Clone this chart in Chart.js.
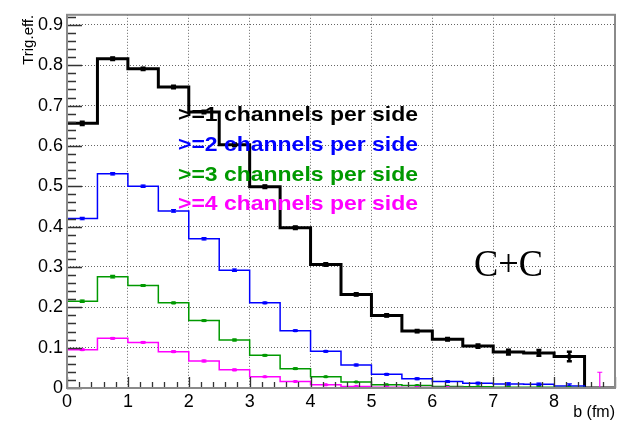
<!DOCTYPE html>
<html>
<head>
<meta charset="utf-8">
<script src="https://cdn.jsdelivr.net/npm/chart.js@4.4.1/dist/chart.umd.min.js"></script>
<style>
  html, body { margin: 0; padding: 0; background: #ffffff; }
  #wrap { width: 625px; height: 422px; position: relative; }
  #c { display: block; width: 625px; height: 422px; }
</style>
</head>
<body>
<div id="wrap"><canvas id="c" width="625" height="422"></canvas></div>
<script>
// Impact parameter bins (fm): lower edges, plus the upper edge of the last bin
const binLow = [0, 0.5, 1, 1.5, 2, 2.5, 3, 3.5, 4, 4.5, 5, 5.5, 6, 6.5, 7, 7.5, 8, 8.5];
const binUpper = 9;
const binHalfWidth = 0.25;

// Trigger efficiency per bin for each multiplicity condition
const effGe1 = [0.656, 0.816, 0.791, 0.746, 0.684, 0.603, 0.499, 0.397, 0.306, 0.232, 0.180, 0.141, 0.121, 0.104, 0.089, 0.087, 0.078, 0];
const errGe1 = [0.004, 0.003, 0.003, 0.003, 0.003, 0.003, 0.003, 0.003, 0.003, 0.003, 0.003, 0.003, 0.003, 0.004, 0.006, 0.007, 0.012, 0];
const effGe2 = [0.420, 0.531, 0.500, 0.439, 0.370, 0.292, 0.211, 0.142, 0.091, 0.057, 0.034, 0.023, 0.016, 0.012, 0.010, 0.009, 0.005, 0];
const errGe2 = [0.003, 0.003, 0.003, 0.003, 0.003, 0.003, 0.002, 0.002, 0.002, 0.002, 0.002, 0.002, 0.002, 0.002, 0.003, 0.003, 0.005, 0];
const effGe3 = [0.215, 0.276, 0.254, 0.211, 0.167, 0.119, 0.081, 0.048, 0.028, 0.015, 0.008, 0.006, 0.004, 0.003, 0.002, 0.002, 0.001, 0];
const errGe3 = [0.003, 0.003, 0.002, 0.002, 0.002, 0.002, 0.002, 0.002, 0.001, 0.001, 0.001, 0.001, 0.001, 0.001, 0.001, 0.001, 0.001, 0];
const effGe4 = [0.095, 0.123, 0.113, 0.090, 0.067, 0.045, 0.028, 0.016, 0.008, 0.004, 0.002, 0.001, 0.001, 0, 0, 0, 0, 0];
const errGe4 = [0.002, 0.002, 0.002, 0.002, 0.002, 0.002, 0.001, 0.001, 0.001, 0.001, 0.001, 0.001, 0.001, 0, 0, 0, 0, 0.039];

// Axis tick labels
const xTickValues = [0, 1, 2, 3, 4, 5, 6, 7, 8];
const yTickValues = [0, 0.1, 0.2, 0.3, 0.4, 0.5, 0.6, 0.7, 0.8, 0.9];

const seriesNames = [">=1 channels per side", ">=2 channels per side", ">=3 channels per side", ">=4 channels per side"];
const seriesColors = ["#000000", "#0000ff", "#009900", "#ff00ff"];
const systemLabel = "C+C";

// Histogram outline: each point carries its bin's value; the line rises/falls at the bin's lower edge
function stepPoints(vals) {
  const pts = binLow.map((x, i) => ({ x: x, y: vals[i] }));
  pts.push({ x: binUpper, y: vals[vals.length - 1] });
  return pts;
}

function makeSet(i, vals, errs, width, order) {
  return {
    label: seriesNames[i],
    data: stepPoints(vals),
    errors: errs,
    values: vals,
    borderColor: seriesColors[i],
    borderWidth: width,
    stepped: 'before',
    pointRadius: 0,
    fill: false,
    order: order
  };
}

const SANS = "'Liberation Sans', Arial, Helvetica, sans-serif";
const NARROW = "'Liberation Sans Narrow', 'Arial Narrow', 'Liberation Sans', sans-serif";

// Error bars and bin-centre markers
const errorBarPlugin = {
  id: 'errorBars',
  afterDatasetsDraw(chart) {
    const { ctx, chartArea, scales: { x, y } } = chart;
    ctx.save();
    ctx.beginPath();
    ctx.rect(chartArea.left, chartArea.top, chartArea.right - chartArea.left, chartArea.bottom - chartArea.top);
    ctx.clip();
    const sets = chart.data.datasets.slice().sort((a, b) => b.order - a.order);
    sets.forEach((d) => {
      ctx.strokeStyle = d.borderColor;
      ctx.fillStyle = d.borderColor;
      const thick = d.borderWidth >= 2.5;
      ctx.lineWidth = thick ? 2.5 : 1.2;
      d.values.forEach((v, k) => {
        const e = d.errors[k];
        if (v === 0 && e === 0) return;
        const px = x.getPixelForValue(binLow[k] + binHalfWidth);
        const yHi = y.getPixelForValue(v + e);
        const yLo = y.getPixelForValue(v - e);
        const py = y.getPixelForValue(v);
        ctx.beginPath();
        ctx.moveTo(px, yHi); ctx.lineTo(px, yLo);
        ctx.moveTo(px - 2.5, yHi); ctx.lineTo(px + 2.5, yHi);
        ctx.moveTo(px - 2.5, yLo); ctx.lineTo(px + 2.5, yLo);
        ctx.stroke();
        const m = thick ? 4 : 3;
        if (v > 0) ctx.fillRect(px - m / 2, py - m / 2, m, m);
      });
    });
    ctx.restore();
  }
};

// Frame, inward tick marks, legend text and the collision-system label
const framePlugin = {
  id: 'frame',
  afterDraw(chart) {
    const { ctx, chartArea: a, scales: { x, y } } = chart;
    ctx.save();
    // minor and major ticks pointing into the plot
    ctx.strokeStyle = '#333333';
    ctx.lineWidth = 1.3;
    ctx.beginPath();
    for (let k = 0; k <= 45; k++) {
      const v = k * 0.2;
      const px = Math.round(x.getPixelForValue(v)) + 0.5;
      const len = (k % 5 === 0) ? 11 : 6;
      ctx.moveTo(px, a.bottom); ctx.lineTo(px, a.bottom - len);
    }
    for (let k = 0; k <= 46; k++) {
      const v = k * 0.02;
      const py = Math.round(y.getPixelForValue(v)) + 0.5;
      const len = (k % 5 === 0) ? 15 : 9;
      ctx.moveTo(a.left, py); ctx.lineTo(a.left + len, py);
    }
    ctx.stroke();
    // frame
    ctx.strokeStyle = '#8a8a8a';
    ctx.lineWidth = 2;
    ctx.strokeRect(a.left, a.top, a.right - a.left, a.bottom - a.top);

    // legend entries in their own colours, bold
    ctx.textBaseline = 'alphabetic';
    ctx.textAlign = 'left';
    const baselines = [121, 150.5, 180.5, 210];
    seriesNames.forEach((name, i) => {
      ctx.font = "bold 21px " + SANS;
      ctx.fillStyle = seriesColors[i];
      const w = ctx.measureText(name).width;
      ctx.save();
      ctx.translate(178, baselines[i]);
      ctx.scale(240 / w, 1);
      ctx.fillText(name, 0, 0);
      ctx.restore();
    });

    // collision system
    ctx.font = "38px 'Liberation Serif', 'Times New Roman', serif";
    ctx.fillStyle = '#000000';
    const cw = ctx.measureText(systemLabel).width;
    ctx.save();
    ctx.translate(474, 276);
    ctx.scale(69 / cw, 1);
    ctx.fillText(systemLabel, 0, 0);
    ctx.restore();
    ctx.restore();
  }
};

const chart = new Chart(document.getElementById('c'), {
  type: 'line',
  data: {
    datasets: [
      makeSet(0, effGe1, errGe1, 3, 4),
      makeSet(1, effGe2, errGe2, 1.5, 3),
      makeSet(2, effGe3, errGe3, 1.5, 2),
      makeSet(3, effGe4, errGe4, 1.5, 1)
    ]
  },
  options: {
    responsive: false,
    maintainAspectRatio: false,
    animation: false,
    devicePixelRatio: 1,
    layout: { padding: { top: 5, right: 10, left: 0, bottom: 0 } },
    plugins: { legend: { display: false }, tooltip: { enabled: false } },
    scales: {
      x: {
        type: 'linear',
        min: 0,
        max: binUpper,
        afterBuildTicks(s) { s.ticks = xTickValues.map(v => ({ value: v })); },
        afterFit(s) { s.height = 34; },
        ticks: {
          padding: 3,
          color: '#000000',
          font: { family: NARROW, size: 18 },
          callback: (v) => String(v)
        },
        grid: {
          drawTicks: false,
          color: (c) => (c.tick && c.tick.value > 0 ? '#666666' : 'rgba(0,0,0,0)'),
          lineWidth: 1
        },
        border: { display: false, dash: [1, 2] },
        title: {
          display: true,
          text: 'b (fm)',
          align: 'end',
          color: '#000000',
          font: { family: SANS, size: 16 },
          padding: { top: 0, bottom: 0 }
        }
      },
      y: {
        type: 'linear',
        min: 0,
        max: 0.925,
        afterBuildTicks(s) { s.ticks = yTickValues.map(v => ({ value: v })); },
        afterFit(s) { s.width = 67; },
        ticks: {
          padding: 4,
          color: '#000000',
          font: { family: NARROW, size: 18 },
          callback: (v) => (v === 0 ? '0' : Number(v).toFixed(1))
        },
        grid: {
          drawTicks: false,
          color: (c) => (c.tick && c.tick.value > 0 ? '#666666' : 'rgba(0,0,0,0)'),
          lineWidth: 1
        },
        border: { display: false, dash: [1, 2] },
        title: {
          display: true,
          text: 'Trig.eff.',
          align: 'end',
          color: '#000000',
          font: { family: SANS, size: 15 },
          padding: { top: 20, bottom: 0 }
        }
      }
    }
  },
  plugins: [errorBarPlugin, framePlugin]
});
</script>
</body>
</html>
